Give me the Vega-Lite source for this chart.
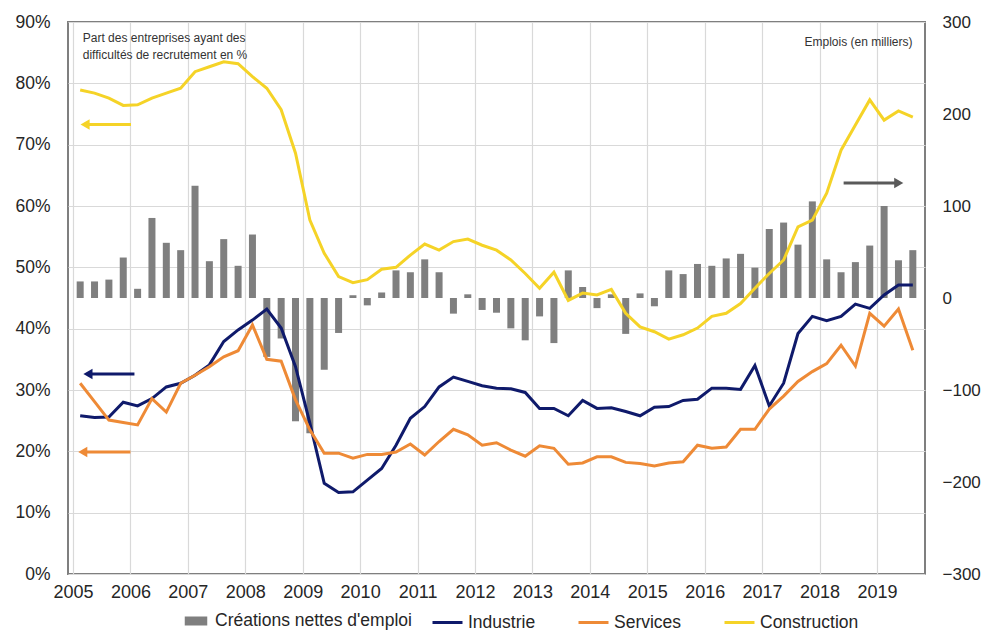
{
  "$schema": "https://vega.github.io/schema/vega-lite/v6.json",
  "width": 857,
  "height": 552,
  "autosize": {"type": "none"},
  "padding": {"left": 68, "top": 22, "right": 56, "bottom": 57},
  "background": "white",
  "config": {
    "font": "Liberation Sans",
    "view": {"stroke": "#7f7f7f", "strokeWidth": 2},
    "axis": {"labelFont": "Liberation Sans", "labelFontSize": 17.5, "labelColor": "#262626", "ticks": false, "domain": false, "gridColor": "#d9d9d9", "gridWidth": 1.2},
    "legend": {"labelFont": "Liberation Sans", "labelFontSize": 17.5, "labelColor": "#262626", "padding": 0, "labelLimit": 500}
  },
  "datasets": {
    "trim": [
      {"t": 2005.125, "emplois": 18, "Industrie": 25.8, "Services": 31.1, "Construction": 78.9},
      {"t": 2005.375, "emplois": 18, "Industrie": 25.5, "Services": 28.1, "Construction": 78.4},
      {"t": 2005.625, "emplois": 20, "Industrie": 25.6, "Services": 25.1, "Construction": 77.6},
      {"t": 2005.875, "emplois": 44, "Industrie": 28.0, "Services": 24.7, "Construction": 76.4},
      {"t": 2006.125, "emplois": 10, "Industrie": 27.4, "Services": 24.3, "Construction": 76.5},
      {"t": 2006.375, "emplois": 87, "Industrie": 28.6, "Services": 28.6, "Construction": 77.6},
      {"t": 2006.625, "emplois": 60, "Industrie": 30.5, "Services": 26.4, "Construction": 78.4},
      {"t": 2006.875, "emplois": 52, "Industrie": 31.1, "Services": 31.1, "Construction": 79.2},
      {"t": 2007.125, "emplois": 122, "Industrie": 32.4, "Services": 32.4, "Construction": 81.9},
      {"t": 2007.375, "emplois": 40, "Industrie": 34.1, "Services": 33.8, "Construction": 82.7},
      {"t": 2007.625, "emplois": 64, "Industrie": 37.9, "Services": 35.4, "Construction": 83.5},
      {"t": 2007.875, "emplois": 35, "Industrie": 39.8, "Services": 36.4, "Construction": 83.2},
      {"t": 2008.125, "emplois": 69, "Industrie": 41.4, "Services": 40.6, "Construction": 81.1},
      {"t": 2008.375, "emplois": -64, "Industrie": 43.2, "Services": 35.0, "Construction": 79.2},
      {"t": 2008.625, "emplois": -44, "Industrie": 40.1, "Services": 34.7, "Construction": 75.7},
      {"t": 2008.875, "emplois": -134, "Industrie": 33.8, "Services": 28.4, "Construction": 68.6},
      {"t": 2009.125, "emplois": -147, "Industrie": 24.6, "Services": 23.5, "Construction": 57.7},
      {"t": 2009.375, "emplois": -78, "Industrie": 14.8, "Services": 19.7, "Construction": 52.3},
      {"t": 2009.625, "emplois": -38, "Industrie": 13.3, "Services": 19.7, "Construction": 48.5},
      {"t": 2009.875, "emplois": 3, "Industrie": 13.4, "Services": 18.9, "Construction": 47.5},
      {"t": 2010.125, "emplois": -8, "Industrie": 15.3, "Services": 19.5, "Construction": 48.0},
      {"t": 2010.375, "emplois": 6, "Industrie": 17.2, "Services": 19.5, "Construction": 49.7},
      {"t": 2010.625, "emplois": 30, "Industrie": 21.0, "Services": 19.9, "Construction": 50.0},
      {"t": 2010.875, "emplois": 28, "Industrie": 25.4, "Services": 21.2, "Construction": 52.0},
      {"t": 2011.125, "emplois": 42, "Industrie": 27.3, "Services": 19.4, "Construction": 53.8},
      {"t": 2011.375, "emplois": 28, "Industrie": 30.5, "Services": 21.6, "Construction": 52.8},
      {"t": 2011.625, "emplois": -17, "Industrie": 32.1, "Services": 23.6, "Construction": 54.2},
      {"t": 2011.875, "emplois": 4, "Industrie": 31.4, "Services": 22.7, "Construction": 54.6},
      {"t": 2012.125, "emplois": -13, "Industrie": 30.7, "Services": 21.0, "Construction": 53.6},
      {"t": 2012.375, "emplois": -16, "Industrie": 30.3, "Services": 21.4, "Construction": 52.8},
      {"t": 2012.625, "emplois": -33, "Industrie": 30.2, "Services": 20.2, "Construction": 51.2},
      {"t": 2012.875, "emplois": -46, "Industrie": 29.6, "Services": 19.2, "Construction": 49.0},
      {"t": 2013.125, "emplois": -20, "Industrie": 27.0, "Services": 20.9, "Construction": 46.6},
      {"t": 2013.375, "emplois": -49, "Industrie": 27.0, "Services": 20.5, "Construction": 49.2},
      {"t": 2013.625, "emplois": 30, "Industrie": 25.8, "Services": 17.9, "Construction": 44.6},
      {"t": 2013.875, "emplois": 12, "Industrie": 28.3, "Services": 18.1, "Construction": 45.8},
      {"t": 2014.125, "emplois": -11, "Industrie": 27.0, "Services": 19.1, "Construction": 45.5},
      {"t": 2014.375, "emplois": 4, "Industrie": 27.1, "Services": 19.1, "Construction": 46.4},
      {"t": 2014.625, "emplois": -39, "Industrie": 26.5, "Services": 18.2, "Construction": 42.5},
      {"t": 2014.875, "emplois": 5, "Industrie": 25.8, "Services": 18.0, "Construction": 40.3},
      {"t": 2015.125, "emplois": -9, "Industrie": 27.2, "Services": 17.6, "Construction": 39.5},
      {"t": 2015.375, "emplois": 30, "Industrie": 27.3, "Services": 18.1, "Construction": 38.3},
      {"t": 2015.625, "emplois": 26, "Industrie": 28.3, "Services": 18.3, "Construction": 39.0},
      {"t": 2015.875, "emplois": 37, "Industrie": 28.5, "Services": 21.0, "Construction": 40.1},
      {"t": 2016.125, "emplois": 35, "Industrie": 30.3, "Services": 20.5, "Construction": 42.0},
      {"t": 2016.375, "emplois": 43, "Industrie": 30.3, "Services": 20.7, "Construction": 42.5},
      {"t": 2016.625, "emplois": 48, "Industrie": 30.1, "Services": 23.6, "Construction": 44.1},
      {"t": 2016.875, "emplois": 33, "Industrie": 34.0, "Services": 23.6, "Construction": 46.6},
      {"t": 2017.125, "emplois": 75, "Industrie": 27.4, "Services": 26.9, "Construction": 49.0},
      {"t": 2017.375, "emplois": 82, "Industrie": 31.1, "Services": 29.0, "Construction": 51.2},
      {"t": 2017.625, "emplois": 58, "Industrie": 39.2, "Services": 31.4, "Construction": 56.6},
      {"t": 2017.875, "emplois": 105, "Industrie": 42.0, "Services": 33.0, "Construction": 57.7},
      {"t": 2018.125, "emplois": 42, "Industrie": 41.3, "Services": 34.3, "Construction": 62.1},
      {"t": 2018.375, "emplois": 28, "Industrie": 42.0, "Services": 37.3, "Construction": 69.1},
      {"t": 2018.625, "emplois": 39, "Industrie": 44.0, "Services": 33.9, "Construction": 73.2},
      {"t": 2018.875, "emplois": 57, "Industrie": 43.3, "Services": 42.5, "Construction": 77.3},
      {"t": 2019.125, "emplois": 100, "Industrie": 45.5, "Services": 40.4, "Construction": 74.0},
      {"t": 2019.375, "emplois": 41, "Industrie": 47.1, "Services": 43.2, "Construction": 75.5},
      {"t": 2019.625, "emplois": 52, "Industrie": 47.1, "Services": 36.5, "Construction": 74.5}
    ],
    "fleches": [
      {"serie": "Construction", "debut": 2006.01, "fin": 2005.21, "niveau": 73.3, "sens": "gauche"},
      {"serie": "Industrie", "debut": 2006.07, "fin": 2005.26, "niveau": 32.6, "sens": "gauche"},
      {"serie": "Services", "debut": 2006.0, "fin": 2005.17, "niveau": 19.9, "sens": "gauche"},
      {"serie": "Créations nettes d'emploi", "debut": 2018.42, "fin": 2019.38, "niveau": 63.75, "sens": "droite"}
    ],
    "notes_g": [
      {"x": 2005.17, "y": 87.4, "texte": "Part des entreprises ayant des"},
      {"x": 2005.17, "y": 84.6, "texte": "difficultés de recrutement en %"}
    ],
    "notes_d": [
      {"x": 2019.62, "y": 86.7, "texte": "Emplois (en milliers)"}
    ]
  },
  "layer": [
    {
      "data": {"name": "trim"},
      "mark": {"type": "bar", "width": 7},
      "encoding": {
        "x": {"field": "t", "type": "quantitative", "title": null,
              "scale": {"domain": [2005, 2019.75], "nice": false, "zero": false},
              "axis": {"values": [2005, 2006, 2007, 2008, 2009, 2010, 2011, 2012, 2013, 2014, 2015, 2016, 2017, 2018, 2019], "format": "d", "labelDx": 7, "labelPadding": 9, "grid": true, "labelFontSize": 18, "title": null}},
        "y": {"field": "emplois", "type": "quantitative", "title": null,
              "scale": {"domain": [-300, 300], "nice": false},
              "axis": {"orient": "right", "values": [-300, -200, -100, 0, 100, 200, 300], "grid": false, "labelPadding": 17, "labelFontSize": 17, "title": null}},
        "fill": {"datum": "Créations nettes d'emploi", "type": "nominal",
                 "scale": {"domain": ["Créations nettes d'emploi"], "range": ["#7f7f7f"]},
                 "legend": {"orient": "none", "legendX": 113, "legendY": 584, "title": null, "direction": "horizontal", "symbolType": "M-0.75,-0.3H0.75V0.3H-0.75Z", "symbolSize": 900, "symbolStrokeWidth": 0, "labelOffset": 4}}
      }
    },
    {
      "layer": [
        {
          "data": {"name": "trim"},
          "transform": [{"fold": ["Industrie", "Services", "Construction"], "as": ["serie", "pct"]}],
          "mark": {"type": "line", "strokeWidth": 3},
          "encoding": {
            "x": {"field": "t", "type": "quantitative", "title": null, "scale": {"domain": [2005, 2019.75], "nice": false, "zero": false}},
            "y": {"field": "pct", "type": "quantitative", "title": null,
                  "scale": {"domain": [0, 90], "nice": false},
                  "axis": {"orient": "left", "values": [0, 10, 20, 30, 40, 50, 60, 70, 80, 90], "labelExpr": "datum.value + '%'", "grid": true, "labelPadding": 18, "title": null}},
            "stroke": {"field": "serie", "type": "nominal",
                       "scale": {"domain": ["Industrie", "Services", "Construction", "Créations nettes d'emploi"], "range": ["#0f1a6b", "#ee8a36", "#f5d327", "#5a5a5a"]},
                       "legend": {"orient": "none", "legendX": 363, "legendY": 584, "title": null, "direction": "horizontal", "values": ["Industrie", "Services", "Construction"], "symbolType": "stroke", "symbolSize": 900, "symbolStrokeWidth": 3, "columnPadding": 36, "labelOffset": 4}}
          }
        },
        {
          "data": {"name": "fleches"},
          "mark": {"type": "rule", "strokeWidth": 3},
          "encoding": {
            "x": {"field": "debut", "type": "quantitative", "title": null},
            "x2": {"field": "fin"},
            "y": {"field": "niveau", "type": "quantitative", "title": null},
            "stroke": {"field": "serie", "type": "nominal"}
          }
        },
        {
          "data": {"name": "fleches"},
          "mark": {"type": "point", "filled": true, "size": 110, "opacity": 1},
          "encoding": {
            "x": {"field": "fin", "type": "quantitative", "title": null},
            "y": {"field": "niveau", "type": "quantitative", "title": null},
            "color": {"field": "serie", "type": "nominal", "scale": {"domain": ["Industrie", "Services", "Construction", "Créations nettes d'emploi"], "range": ["#0f1a6b", "#ee8a36", "#f5d327", "#5a5a5a"]}, "legend": null},
            "shape": {"field": "sens", "type": "nominal", "scale": {"domain": ["gauche", "droite"], "range": ["triangle-left", "triangle-right"]}, "legend": null}
          }
        },
        {
          "data": {"name": "notes_g"},
          "mark": {"type": "text", "align": "left", "baseline": "middle", "fontSize": 12, "color": "#333333", "font": "Liberation Sans"},
          "encoding": {
            "x": {"field": "x", "type": "quantitative", "title": null},
            "y": {"field": "y", "type": "quantitative", "title": null},
            "text": {"field": "texte"}
          }
        },
        {
          "data": {"name": "notes_d"},
          "mark": {"type": "text", "align": "right", "baseline": "middle", "fontSize": 12, "color": "#333333", "font": "Liberation Sans"},
          "encoding": {
            "x": {"field": "x", "type": "quantitative", "title": null},
            "y": {"field": "y", "type": "quantitative", "title": null},
            "text": {"field": "texte"}
          }
        }
      ]
    }
  ],
  "resolve": {"scale": {"y": "independent"}}
}
